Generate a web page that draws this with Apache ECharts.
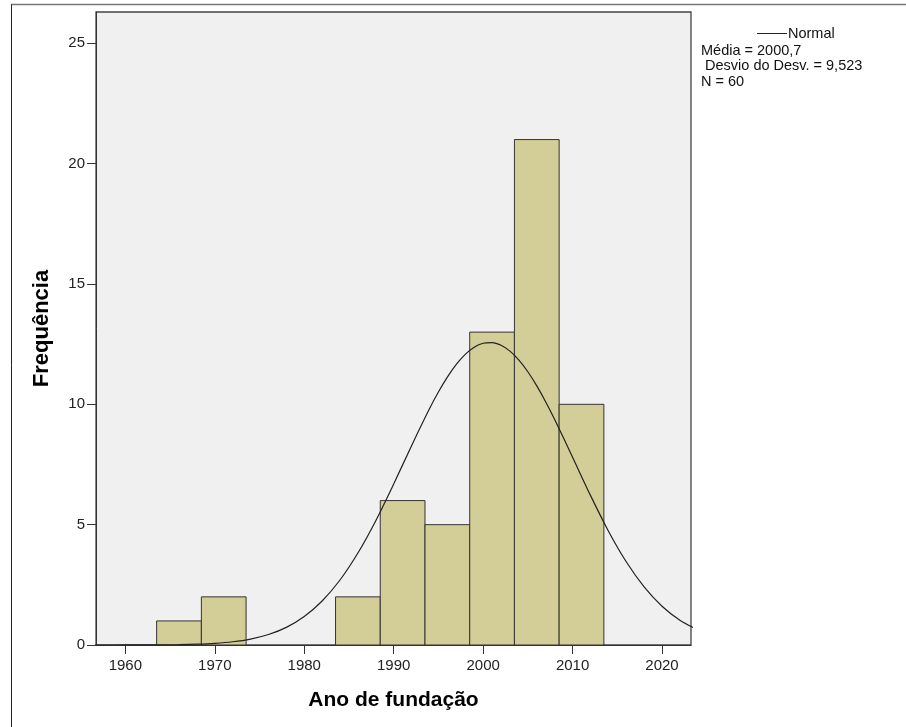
<!DOCTYPE html>
<html>
<head>
<meta charset="utf-8">
<script src="https://cdn.jsdelivr.net/npm/echarts@6/dist/echarts.min.js"></script>
<style>
html,body{margin:0;padding:0;background:#fff;}
#chart{width:906px;height:727px;}
</style>
</head>
<body>
<div id="chart"></div>
<script>
// ---- data ----
const xTickLabels = [1960, 1970, 1980, 1990, 2000, 2010, 2020];
const yTickLabels = [0, 5, 10, 15, 20, 25];
const binStarts = [1963.5, 1968.5, 1973.5, 1978.5, 1983.5, 1988.5, 1993.5, 1998.5, 2003.5, 2008.5];
const binWidth = 5;
const counts = [1, 2, 0, 0, 2, 6, 5, 13, 21, 10];
const curveYears = [1956, 1958, 1960, 1962, 1964, 1966, 1968, 1970, 1972, 1974, 1976, 1978, 1980, 1982, 1984, 1986, 1988, 1990, 1992, 1994, 1995, 1996, 1997, 1998, 1999, 2000, 2001, 2002, 2003, 2004, 2005, 2006, 2007, 2008, 2010, 2012, 2014, 2016, 2018, 2020, 2022, 2024];
const curveFreq = [0.0002, 0.0005, 0.0014, 0.0033, 0.0075, 0.0165, 0.035, 0.070, 0.134, 0.247, 0.435, 0.733, 1.184, 1.829, 2.701, 3.820, 5.166, 6.687, 8.281, 9.813, 10.509, 11.128, 11.656, 12.075, 12.371, 12.536, 12.564, 12.453, 12.209, 11.837, 11.352, 10.766, 10.100, 9.370, 7.802, 6.217, 4.740, 3.458, 2.414, 1.612, 1.031, 0.630];
const legendLines = ['Média = 2000,7', ' Desvio do Desv. = 9,523', 'N = 60'];
const xTitle = 'Ano de fundação';
const yTitle = 'Frequência';

const FONT = '"Liberation Sans", Arial, sans-serif';
const chart = echarts.init(document.getElementById('chart'), null, {renderer: 'canvas'});

const histData = binStarts.map((s, i) => [s, counts[i]]);
const curveData = curveYears.map((y, i) => [y, curveFreq[i]]);

const legendGraphics = [
  {type: 'line', shape: {x1: 757, y1: 33.5, x2: 787, y2: 33.5}, style: {stroke: '#222', lineWidth: 1}},
  {type: 'text', x: 788, y: 34, style: {text: 'Normal', font: '14.5px ' + FONT, fill: '#111', verticalAlign: 'middle'}}
];
legendLines.forEach((t, i) => {
  legendGraphics.push({type: 'text', x: 701, y: 50.5 + i * 15.7, style: {text: t, font: '14.5px ' + FONT, fill: '#111', verticalAlign: 'middle'}});
});

const option = {
  backgroundColor: '#ffffff',
  animation: false,
  grid: {
    left: 96, right: 215, top: 12, bottom: 82,
    show: true, backgroundColor: '#F0F0F0', borderColor: '#444', borderWidth: 1.3,
    containLabel: false, outerBoundsMode: 'none'
  },
  xAxis: {
    type: 'value', min: 1956.72, max: 2023.24,
    splitLine: {show: false},
    axisLine: {show: true, onZero: false, lineStyle: {color: '#333', width: 1}},
    axisTick: {show: true, customValues: xTickLabels, length: 9, lineStyle: {color: '#333'}},
    axisLabel: {customValues: xTickLabels, margin: 13, fontSize: 15, fontFamily: FONT, color: '#222',
      formatter: function (v) { return String(Math.round(v)); }},
    name: xTitle, nameLocation: 'middle', nameGap: 45,
    nameTextStyle: {fontSize: 21, fontWeight: 'bold', fontFamily: FONT, color: '#000'}
  },
  yAxis: {
    type: 'value', min: 0, max: 26.3,
    splitLine: {show: false},
    axisLine: {show: true, onZero: false, lineStyle: {color: '#333', width: 1}},
    axisTick: {show: true, customValues: yTickLabels, length: 9, lineStyle: {color: '#333'}},
    axisLabel: {customValues: yTickLabels, margin: 11, fontSize: 15, fontFamily: FONT, color: '#222',
      formatter: function (v) { return String(Math.round(v)); }},
    name: yTitle, nameLocation: 'middle', nameGap: 43,
    nameTextStyle: {fontSize: 22, fontWeight: 'bold', fontFamily: FONT, color: '#000'}
  },
  series: [
    {
      type: 'custom',
      data: histData,
      encode: {x: 0, y: 1},
      clip: true,
      z: 2,
      renderItem: function (params, api) {
        const x0 = api.value(0);
        const c = api.value(1);
        if (!c) return null;
        const p0 = api.coord([x0, c]);
        const p1 = api.coord([x0 + binWidth, 0]);
        return {
          type: 'rect',
          shape: {x: p0[0], y: p0[1], width: p1[0] - p0[0], height: p1[1] - p0[1]},
          style: {fill: '#D3CE97', stroke: '#333', lineWidth: 1}
        };
      }
    },
    {
      type: 'line',
      data: curveData,
      smooth: 0.3,
      showSymbol: false,
      symbol: 'none',
      clip: true,
      z: 3,
      lineStyle: {color: '#222', width: 1.2}
    }
  ],
  graphic: [
    {type: 'line', shape: {x1: 11, y1: 4.5, x2: 906, y2: 4.5}, style: {stroke: '#777', lineWidth: 1.3}},
    {type: 'line', shape: {x1: 11.5, y1: 4.5, x2: 11.5, y2: 727}, style: {stroke: '#222', lineWidth: 1}}
  ].concat(legendGraphics)
};
chart.setOption(option);
</script>
</body>
</html>
